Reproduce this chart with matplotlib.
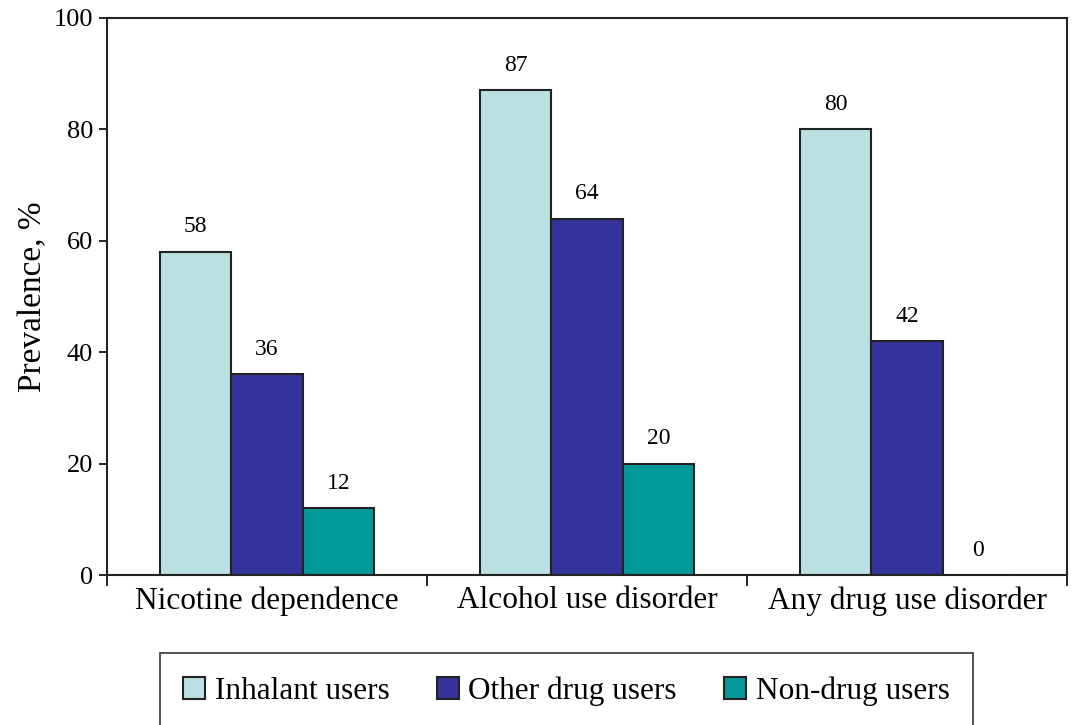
import numpy as np
import matplotlib.pyplot as plt

categories = ["Nicotine dependence", "Alcohol use disorder", "Any drug use disorder"]
series_names = ["Inhalant users", "Other drug users", "Non-drug users"]
inhalant = [58, 87, 80]
other_drug = [36, 64, 42]
non_drug = [12, 20, 0]
colors = ["#BBE0E3", "#333399", "#009999"]

plt.rcParams['font.family'] = ['Liberation Serif', 'DejaVu Serif']

fig = plt.figure(figsize=(10.73, 7.25), dpi=100)
ax = fig.add_axes([107 / 1073, 1 - 575 / 725, 960 / 1073, 557 / 725])

x = np.arange(len(categories))
w = 0.223
data = [inhalant, other_drug, non_drug]
for i, (vals, name, c) in enumerate(zip(data, series_names, colors)):
    pos = x + (i - 1) * w
    ax.bar(pos, vals, w, color=c, edgecolor="#222222", linewidth=1.5, label=name)
    for p, v in zip(pos, vals):
        ax.text(p, v + 2.6, str(v), ha="center", va="bottom", fontsize=17)

ax.set_xlim(-0.5, 2.5)
ax.set_ylim(0, 100)
ax.set_yticks([0, 20, 40, 60, 80, 100])
ax.tick_params(axis="y", labelsize=19, direction="out", length=6, width=1.2, pad=4)
ax.set_xticks([-0.5, 0.5, 1.5, 2.5])
ax.set_xticklabels([])
ax.tick_params(axis="x", direction="out", length=8, width=1.2)
ax.set_xticks(x, minor=True)
ax.set_xticklabels(categories, minor=True, fontsize=22.5)
ax.tick_params(axis="x", which="minor", length=0, pad=8)
for s in ax.spines.values():
    s.set_linewidth(1.5)
    s.set_color("#222222")
ax.set_ylabel("Prevalence, %", fontsize=24, labelpad=4)

leg = fig.legend(loc="upper left", bbox_to_anchor=(160 / 1073, 1 - 653 / 725, 813 / 1073, 0),
                 ncol=3, mode="expand", fontsize=22.5, frameon=True, fancybox=False,
                 edgecolor="black", handlelength=0.7, handleheight=0.7, handletextpad=0.3,
                 borderpad=0.75, borderaxespad=0)
leg.get_frame().set_linewidth(1.2)

fig.savefig("out.png", dpi=100)
